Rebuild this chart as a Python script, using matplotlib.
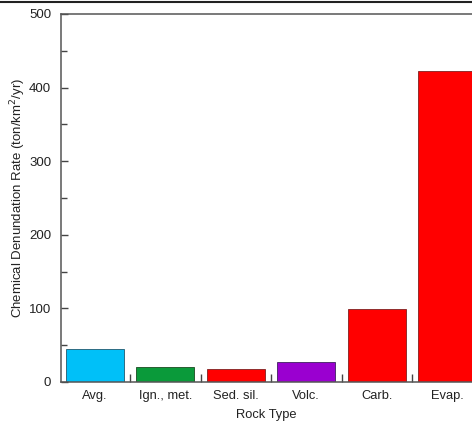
import numpy as np
import matplotlib
matplotlib.use("Agg")
import matplotlib.pyplot as plt
from matplotlib.lines import Line2D
from matplotlib.ticker import MultipleLocator, FixedLocator

plt.rcParams['font.family'] = ['Liberation Sans', 'DejaVu Sans']

# Denudation rate by rock type
rock_types = ['Avg.', 'Ign., met.', 'Sed. sil.', 'Volc.', 'Carb.', 'Evap.']
rates = [45, 20, 18, 27, 99, 423]
colors = ['#00c0f8', '#0a9a3a', '#ff0000', '#9a00d0', '#ff0000', '#ff0000']
edges = ['#205a70', '#1a4a20', '#802020', '#402060', '#802020', '#802020']

fig = plt.figure(figsize=(4.72, 4.22), dpi=100)
ax = fig.add_axes([0.129, 0.095, 0.871, 0.872])

x = np.arange(len(rock_types))
ax.bar(x, rates, width=0.82, color=colors, edgecolor=edges, linewidth=0.6)

ax.set_xlim(-0.48, 5.35)
ax.set_ylim(0, 500)
ax.yaxis.set_major_locator(MultipleLocator(100))
ax.yaxis.set_minor_locator(MultipleLocator(50))
ax.set_xticks(x)
ax.set_xticklabels(rock_types, fontsize=9.3, color='#222222')
ax.xaxis.set_minor_locator(FixedLocator(x[:-1] + 0.5))

ax.tick_params(axis='y', which='major', direction='in', length=5, width=1,
               color='#444444', labelsize=9.5, labelcolor='#222222', pad=7)
ax.tick_params(axis='y', which='minor', direction='in', length=4, width=1, color='#444444')
ax.tick_params(axis='x', which='major', length=0, pad=6)
ax.tick_params(axis='x', which='minor', direction='in', length=6, width=1, color='#444444')

for side in ['left', 'top', 'bottom']:
    ax.spines[side].set_color('#555555')
    ax.spines[side].set_linewidth(1.1)
ax.spines['right'].set_visible(False)

ax.set_ylabel('Chemical Denundation Rate (ton/km$^2$/yr)', fontsize=9.5,
              color='#222222')
ax.yaxis.set_label_coords(-0.08, 0.5)
ax.set_xlabel('Rock Type', fontsize=9.3, color='#222222', labelpad=5)

# border line along the top of the figure
fig.add_artist(Line2D([0, 1], [0.996, 0.996], color='#222222', linewidth=1.5,
                      transform=fig.transFigure))

fig.savefig('out.png', dpi=100)
